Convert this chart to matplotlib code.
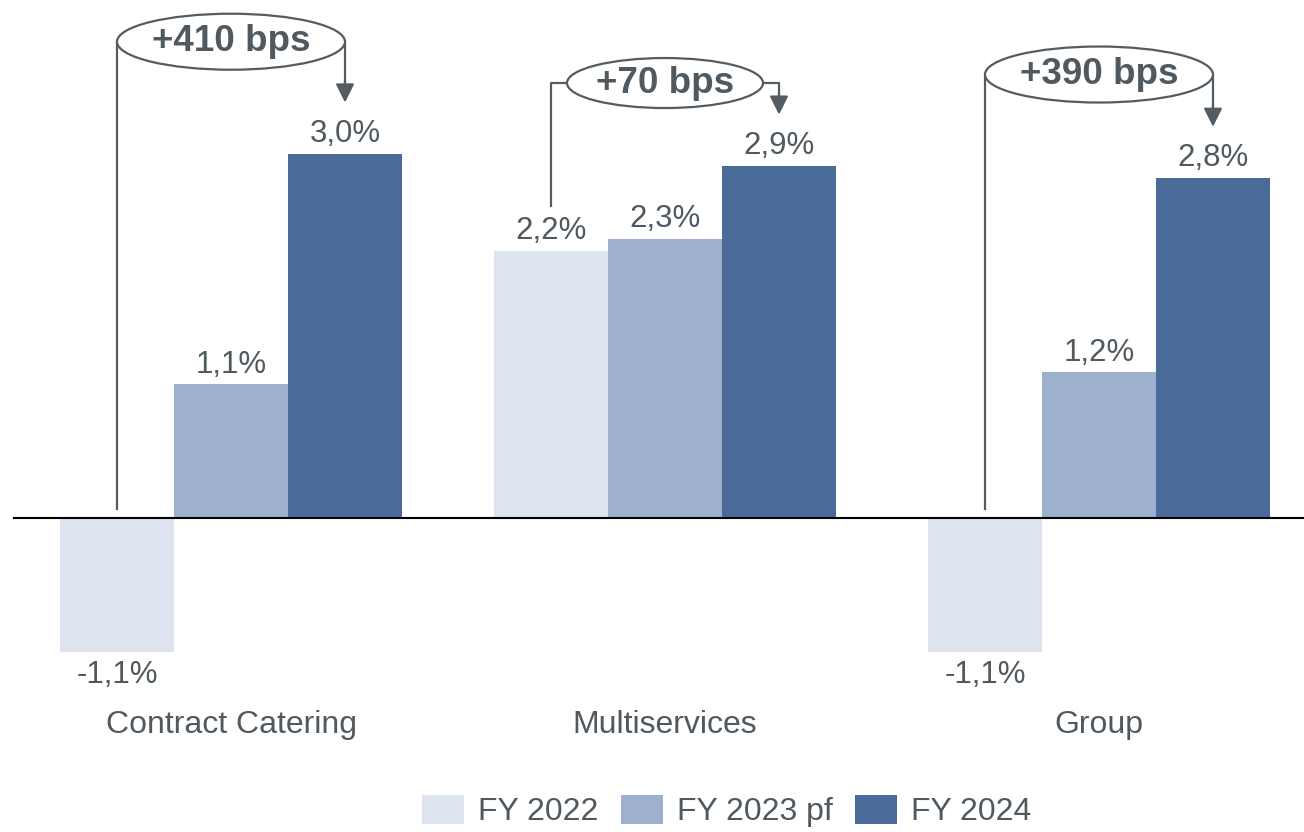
import numpy as np
import matplotlib.pyplot as plt
from matplotlib.patches import Ellipse, Patch

plt.rcParams['font.family'] = ['Liberation Sans', 'DejaVu Sans']

# margin by segment (%)
categories = ['Contract Catering', 'Multiservices', 'Group']
series = ['FY 2022', 'FY 2023 pf', 'FY 2024']
fy2022 = [-1.1, 2.2, -1.1]
fy2023 = [1.1, 2.3, 1.2]
fy2024 = [3.0, 2.9, 2.8]
value_labels = [['-1,1%', '2,2%', '-1,1%'],
                ['1,1%', '2,3%', '1,2%'],
                ['3,0%', '2,9%', '2,8%']]
bps_labels = ['+410 bps', '+70 bps', '+390 bps']

colors = ['#dde4ef', '#9db0cd', '#4a6a99']
text_col = '#4f595f'
line_col = '#535c62'

fig = plt.figure(figsize=(13.04, 8.32), dpi=100)
ax = fig.add_axes([0, 0, 1, 1])
ax.set_xlim(-231 / 434, (1304 - 231) / 434)
ax.set_ylim(-(832 - 518) / 121.5, 518 / 121.5)
ax.axis('off')

x = np.arange(len(categories))
w = 114 / 434
data = [fy2022, fy2023, fy2024]
for k, vals in enumerate(data):
    xs = x + (k - 1) * w
    ax.bar(xs, vals, width=w, color=colors[k], edgecolor='none', zorder=2)
    for xi, v, lab in zip(xs, vals, value_labels[k]):
        if v >= 0:
            ax.text(xi, v + 0.16, lab, ha='center', va='center', fontsize=22.5, color=text_col)
        else:
            ax.text(xi, v - 0.19, lab, ha='center', va='center', fontsize=22.5, color=text_col)

# zero line
ax.plot([-217 / 434, ax.get_xlim()[1]], [0, 0], color='black', lw=1.5, zorder=3)

for xi, cat in zip(x, categories):
    ax.text(xi, -1.70, cat, ha='center', va='center', fontsize=23, color=text_col)

# change brackets between FY 2022 and FY 2024
ell_y = [3.92, 3.58, 3.65]
ell_w = [228 / 434, 196 / 434, 228 / 434]
ell_h = [56 / 121.5, 50 / 121.5, 56 / 121.5]
for i in range(len(categories)):
    x0 = x[i] - w
    x1 = x[i] + w
    v0 = fy2022[i]
    y0 = 0.07 if v0 < 0 else v0 + 0.37
    ey = ell_y[i]
    el_l = x[i] - ell_w[i] / 2
    el_r = x[i] + ell_w[i] / 2
    ax.plot([x0, x0, el_l], [y0, ey, ey], color=line_col, lw=1.6, zorder=3)
    ax.plot([el_r, x1, x1], [ey, ey, fy2024[i] + 0.55], color=line_col, lw=1.6, zorder=3)
    ax.annotate('', xy=(x1, fy2024[i] + 0.42), xytext=(x1, fy2024[i] + 0.6),
                arrowprops=dict(arrowstyle='-|>', color=line_col, lw=1.6,
                                mutation_scale=28, shrinkA=0, shrinkB=0))
    ax.add_patch(Ellipse((x[i], ey), ell_w[i], ell_h[i], facecolor='white',
                         edgecolor=line_col, lw=1.6, zorder=4))
    ax.text(x[i], ey, bps_labels[i], ha='center', va='center', fontsize=26.5,
            fontweight='bold', color=text_col, zorder=5)

handles = [Patch(facecolor=c, edgecolor='none') for c in colors]
leg = fig.legend(handles, series, loc='center', bbox_to_anchor=(727 / 1304, 1 - 811 / 832),
                 ncol=3, frameon=False, fontsize=23, handlelength=1.3, handleheight=1.05,
                 handletextpad=0.45, columnspacing=0.7, borderpad=0)
for t in leg.get_texts():
    t.set_color(text_col)

fig.savefig('out.png', dpi=100)
